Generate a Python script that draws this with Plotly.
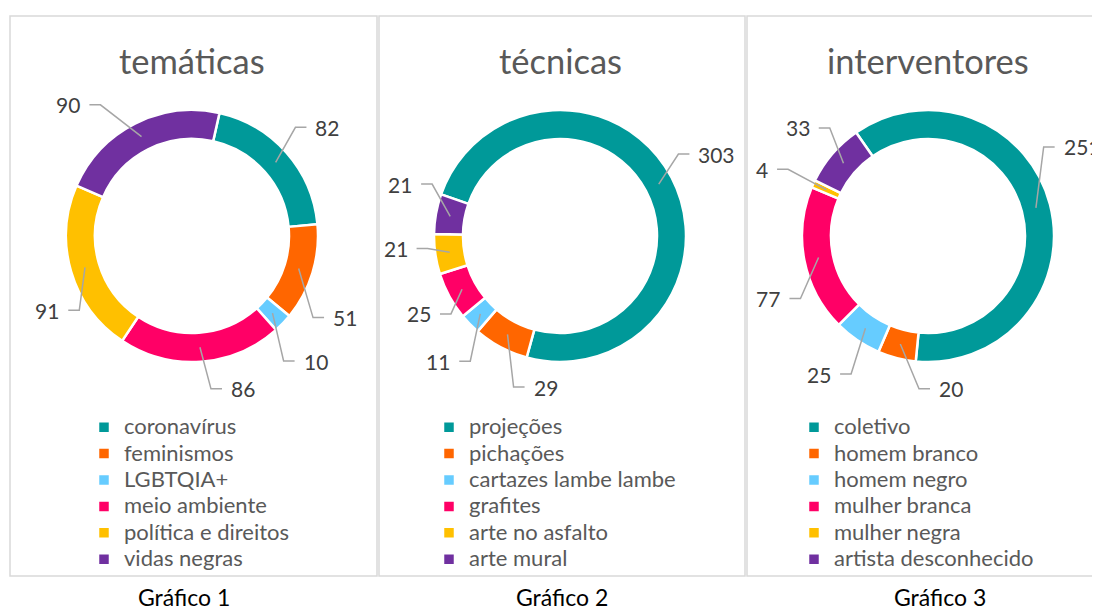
import math
import plotly.graph_objects as go

# ---------------- data ----------------
titles = ["temáticas", "técnicas", "interventores"]
captions = ["Gráfico 1", "Gráfico 2", "Gráfico 3"]

tematicas_labels = ["coronavírus", "feminismos", "LGBTQIA+", "meio ambiente",
                    "política e direitos", "vidas negras"]
tematicas_values = [82, 51, 10, 86, 91, 90]

tecnicas_labels = ["projeções", "pichações", "cartazes lambe lambe", "grafites",
                   "arte no asfalto", "arte mural"]
tecnicas_values = [303, 29, 11, 25, 21, 21]

interventores_labels = ["coletivo", "homem branco", "homem negro", "mulher branca",
                        "mulher negra", "artista desconhecido"]
interventores_values = [251, 20, 25, 77, 4, 33]

colors = ["#009999", "#FF6600", "#66CCFF", "#FF0066", "#FFC000", "#7030A0"]

# ---------------- layout constants (page pixels) ----------------
W, H = 1100, 610
OFF = 8                      # default page body margin
FW, FH = W - OFF, H - OFF    # figure size
FONT = "Lato"
centers_x = [192, 560, 928]
center_y = 236
R = 126
HOLE = 0.77
rotations = [12.6, -70.7, -34.8]
panels = [(10, 377), (379, 745), (747, 1115)]
legend_x = [84, 429, 794]
legend_top = 409
caption_x = [184, 562, 940]
# data-label placement: angular nudge from slice middle (deg) and elbow radius (px)
label_nudge = [[-5, 17, 10, -3, -17, -8],
               [-7, -11, -10, -7, 3, 12],
               [-23, -11, -5, -15, 1, 7]]
label_radius = [[150, 146, 155, 154, 135, 160],
                [144, 158, 154, 134, 133, 138],
                [146, 153, 158, 142, 155, 146]]


def px(x):
    return (x - OFF) / FW


def py(y):
    return 1 - (y - OFF) / FH


fig = go.Figure()
shapes = []
annotations = []

datasets = [
    (tematicas_labels, tematicas_values),
    (tecnicas_labels, tecnicas_values),
    (interventores_labels, interventores_values),
]

for i, (labels, values) in enumerate(datasets):
    cx = centers_x[i]
    legend_name = "legend" if i == 0 else f"legend{i + 1}"
    fig.add_trace(go.Pie(
        labels=[f"<span style='font-size:22px'>{lab}</span>" for lab in labels],
        values=values, hole=HOLE, sort=False,
        direction="clockwise", rotation=rotations[i],
        marker=dict(colors=colors, line=dict(color="white", width=2.5)),
        textinfo="none",
        customdata=labels,
        hovertemplate="%{customdata}: %{value}<extra></extra>",
        domain=dict(x=[px(cx - R), px(cx + R)], y=[py(center_y + R), py(center_y - R)]),
        legend=legend_name, showlegend=True,
    ))

    # leader lines and data labels computed from slice mid-angles
    total = sum(values)
    start = rotations[i]
    r_anchor = R * (1 + HOLE) / 2
    for j, v in enumerate(values):
        span = v / total * 360
        mid_deg = start + span / 2
        start += span
        mid = math.radians(mid_deg)
        ax, ay = cx + r_anchor * math.sin(mid), center_y - r_anchor * math.cos(mid)
        el_deg = (mid_deg + label_nudge[i][j]) % 360
        el = math.radians(el_deg)
        re = label_radius[i][j]
        ex, ey = cx + re * math.sin(el), center_y - re * math.cos(el)
        side = 1 if el_deg < 200 else -1
        hx = ex + side * 11
        shapes.append(dict(
            type="path", xref="paper", yref="paper",
            path=f"M {px(ax)} {py(ay)} L {px(ex)} {py(ey)} L {px(hx)} {py(ey)}",
            line=dict(color="#A6A6A6", width=1.5),
        ))
        annotations.append(dict(
            x=px(hx + side * 7), y=py(ey), xref="paper", yref="paper",
            text=str(v), showarrow=False,
            xanchor="left" if side > 0 else "right", yanchor="middle",
            font=dict(family=FONT, size=21, color="#404040"),
        ))

    # title
    annotations.append(dict(
        x=px(cx), y=py(60), xref="paper", yref="paper", text=titles[i],
        showarrow=False, xanchor="center", yanchor="middle",
        font=dict(family=FONT, size=34.5, color="#595959"),
    ))
    # caption
    annotations.append(dict(
        x=px(caption_x[i]), y=py(597), xref="paper", yref="paper", text=captions[i],
        showarrow=False, xanchor="center", yanchor="middle",
        font=dict(family=FONT, size=23, color="#000000"),
    ))
    # panel border
    x0, x1 = panels[i]
    shapes.append(dict(
        type="rect", xref="paper", yref="paper",
        x0=px(x0), x1=px(x1), y0=py(576), y1=py(16),
        line=dict(color="#D9D9D9", width=1.5), layer="below",
    ))

legend_common = dict(
    xanchor="left", yanchor="top", bgcolor="rgba(0,0,0,0)",
    font=dict(family=FONT, size=18, color="#595959"),
    itemclick=False, itemdoubleclick=False,
)
fig.update_layout(
    width=FW, height=FH,
    margin=dict(l=0, r=0, t=0, b=0),
    paper_bgcolor="white", plot_bgcolor="white",
    shapes=shapes, annotations=annotations,
    legend=dict(x=px(legend_x[0]), y=py(legend_top), **legend_common),
    legend2=dict(x=px(legend_x[1]), y=py(legend_top), **legend_common),
    legend3=dict(x=px(legend_x[2]), y=py(legend_top), **legend_common),
)

fig.write_html("out.html")
